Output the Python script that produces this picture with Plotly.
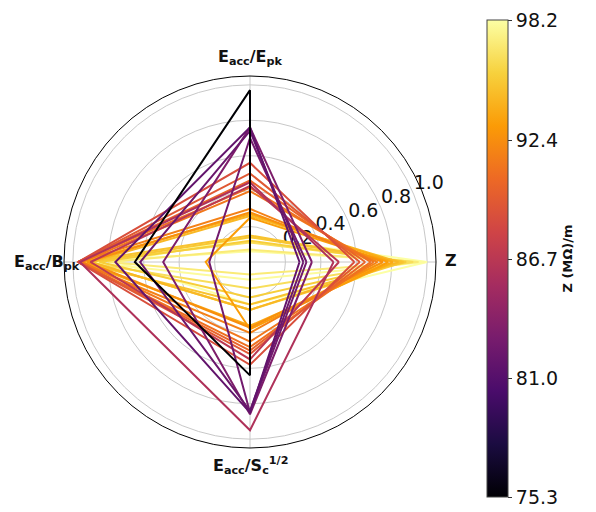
import plotly.graph_objects as go
from plotly.colors import sample_colorscale

# ---- data ----
axis_labels = ["<b>Z</b>", "<b>E<sub>acc</sub>/E<sub>pk</sub></b>",
               "<b>E<sub>acc</sub>/B<sub>pk</sub></b>", "<b>E<sub>acc</sub>/S<sub>c</sub><sup>1/2</sup></b>"]
axis_angles = [0, 90, 180, 270]

z_impedance = [75.3, 81.7, 82.2, 82.6, 83.3, 86.1, 86.8, 88.8, 89.5, 90.2, 90.9, 91.3,
               91.8, 92.5, 93.2, 93.8, 94.5, 95.0, 95.2, 95.5, 96.4, 97.1, 98.0, 98.2]
epk_norm = [0.97, 0.76, 0.74, 0.70, 0.76, 0.45, 0.43, 0.56, 0.50, 0.46, 0.42, 0.40,
            0.30, 0.28, 0.25, 0.27, 0.26, 0.15, 0.14, 0.12, 0.11, 0.07, 0.06, 0.14]
bpk_norm = [0.65, 0.76, 0.62, 0.23, 0.49, 0.96, 0.90, 0.97, 0.97, 0.97, 0.97, 0.95,
            0.97, 0.92, 0.25, 0.95, 0.90, 0.96, 0.90, 0.85, 0.95, 0.80, 0.92, 0.75]
sc_norm = [0.64, 0.85, 0.84, 0.85, 0.86, 0.95, 0.55, 0.58, 0.52, 0.50, 0.48, 0.45,
           0.40, 0.37, 0.38, 0.36, 0.27, 0.24, 0.27, 0.20, 0.15, 0.07, 0.10, 0.24]

cb_ticks = [75.3, 81.0, 86.7, 92.4, 98.2]
radial_ticks = [0.2, 0.4, 0.6, 0.8, 1.0]
radial_label_angle = 22.5

zmin, zmax = min(z_impedance), max(z_impedance)

W, H = 596, 512
dom_x = [64 / W, 436 / W]
dom_y = [64 / H, 436 / H]
cx, cy = sum(dom_x) / 2, sum(dom_y) / 2

fig = go.Figure()

# radial tick labels (horizontal, matplotlib style)
fig.add_trace(go.Scatterpolar(
    r=radial_ticks, theta=[radial_label_angle] * len(radial_ticks),
    mode="text", text=[f"{v:.1f}" for v in radial_ticks],
    textposition="top right",
    textfont=dict(size=19, color="#111", family="DejaVu Sans"),
    showlegend=False, hoverinfo="skip"))

order = sorted(range(len(z_impedance)), key=lambda i: -z_impedance[i])
for i in order:
    zn = (z_impedance[i] - zmin) / (zmax - zmin)
    col = sample_colorscale("Inferno", [zn])[0]
    r = [zn, epk_norm[i], bpk_norm[i], sc_norm[i], zn]
    th = axis_angles + [axis_angles[0]]
    fig.add_trace(go.Scatterpolar(r=r, theta=th, mode="lines",
                                  line=dict(color=col, width=2),
                                  showlegend=False, hoverinfo="skip"))

# colorbar carrier
fig.add_trace(go.Scatterpolar(
    r=[0, 0], theta=[0, 0], mode="markers",
    marker=dict(size=0.1, color=[zmin, zmax], colorscale="Inferno",
                cmin=zmin, cmax=zmax, showscale=True,
                colorbar=dict(
                    tickvals=cb_ticks, ticktext=[f"{v:.1f}" for v in cb_ticks],
                    ticks="outside", ticklen=4, tickcolor="#333",
                    tickfont=dict(size=19, color="#111", family="DejaVu Sans"),
                    thickness=21, lenmode="pixels", len=477,
                    x=487 / W, xanchor="left", xpad=0, ypad=0,
                    y=1 - 258.5 / H, yanchor="middle",
                    outlinecolor="#444", outlinewidth=1,
                    title=dict(text="<b>Z (MΩ)/m</b>", side="right",
                               font=dict(size=13, color="#111", family="DejaVu Sans")))),
    showlegend=False, hoverinfo="skip"))

# angular category labels centred just outside the frame (matplotlib style)
label_shifts = [(201, 2), (0, 205), (-203, 0), (0, -203)]
for txt, (dx, dy) in zip(axis_labels, label_shifts):
    fig.add_annotation(x=cx, y=cy, xref="paper", yref="paper", text=txt,
                       showarrow=False, xshift=dx, yshift=dy,
                       xanchor="center", yanchor="middle",
                       font=dict(size=16, color="#111", family="DejaVu Sans"))

fig.update_layout(
    width=W, height=H,
    margin=dict(l=0, r=0, t=0, b=0, autoexpand=False),
    paper_bgcolor="white",
    font=dict(family="DejaVu Sans", color="#111"),
    polar=dict(
        domain=dict(x=dom_x, y=dom_y),
        bgcolor="white",
        radialaxis=dict(range=[0, 1.05], tickvals=radial_ticks,
                        showticklabels=False,
                        angle=radial_label_angle, showline=False, ticks="",
                        gridcolor="#c8c8c8", gridwidth=1),
        angularaxis=dict(tickmode="array", tickvals=axis_angles,
                         showticklabels=False,
                         rotation=0, direction="counterclockwise",
                         showline=True, linecolor="black", linewidth=1,
                         gridcolor="#c8c8c8", gridwidth=1, ticks=""),
    ),
)

fig.write_html("out.html", config={"displayModeBar": False},
               post_script="document.body.style.margin='0';document.body.style.padding='0';")
